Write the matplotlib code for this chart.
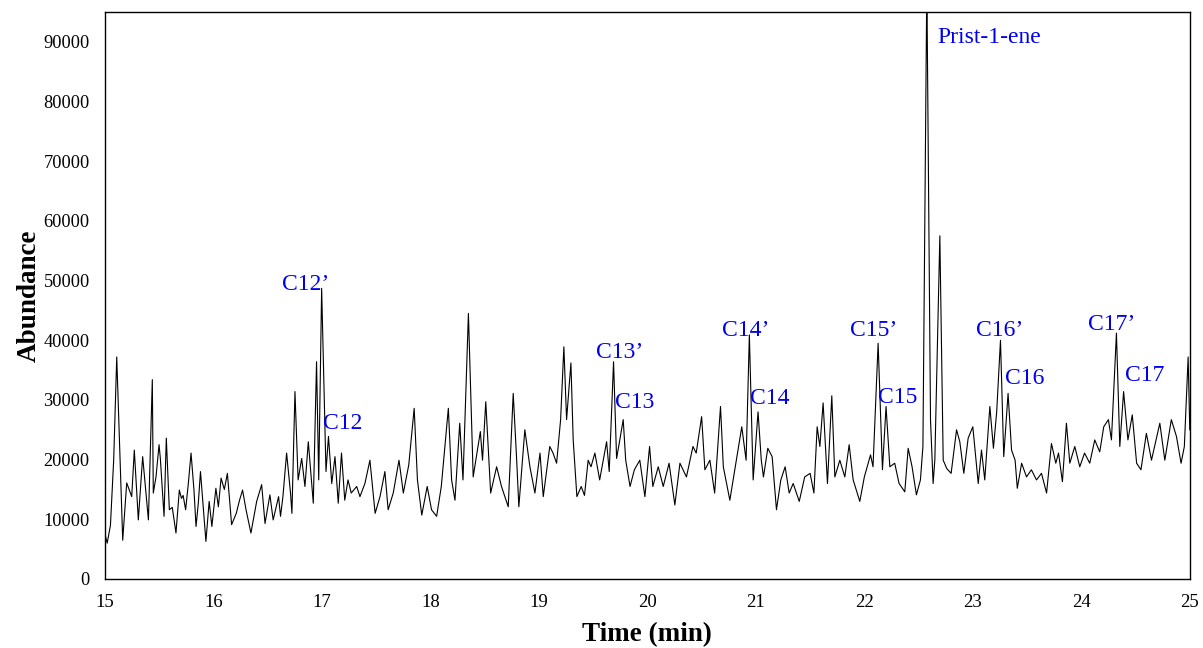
import matplotlib
matplotlib.use('Agg')
import matplotlib.pyplot as plt

# retention time (min) and abundance
time_min = [
    15.00, 15.02, 15.05, 15.08, 15.108, 15.13, 15.163, 15.20, 15.246, 15.27,
    15.307, 15.347, 15.40, 15.436, 15.445, 15.47, 15.498, 15.51, 15.544, 15.565,
    15.593, 15.62, 15.654, 15.685, 15.705, 15.72, 15.743, 15.768, 15.793, 15.82,
    15.839, 15.86, 15.88, 15.91, 15.93, 15.96, 15.985, 16.022, 16.045, 16.07,
    16.10, 16.128, 16.167, 16.21, 16.24, 16.268, 16.30, 16.345, 16.398, 16.444,
    16.475, 16.52, 16.55, 16.60, 16.618, 16.64, 16.674, 16.71, 16.723, 16.751,
    16.78, 16.813, 16.843, 16.874, 16.92, 16.95, 16.97, 16.997, 17.037, 17.06,
    17.09, 17.12, 17.15, 17.18, 17.21, 17.24, 17.27, 17.32, 17.35, 17.396,
    17.442, 17.49, 17.535, 17.58, 17.61, 17.657, 17.71, 17.75, 17.80, 17.85,
    17.88, 17.92, 17.97, 18.01, 18.057, 18.10, 18.165, 18.195, 18.226, 18.27,
    18.30, 18.35, 18.394, 18.46, 18.48, 18.51, 18.555, 18.61, 18.655, 18.717,
    18.763, 18.795, 18.815, 18.87, 18.917, 18.963, 19.01, 19.04, 19.10, 19.13,
    19.163, 19.20, 19.23, 19.255, 19.295, 19.316, 19.35, 19.39, 19.42, 19.454,
    19.48, 19.516, 19.56, 19.624, 19.648, 19.688, 19.716, 19.74, 19.777, 19.80,
    19.84, 19.88, 19.93, 19.977, 20.02, 20.05, 20.10, 20.146, 20.20, 20.253,
    20.30, 20.36, 20.42, 20.45, 20.50, 20.53, 20.576, 20.62, 20.674, 20.70,
    20.76, 20.82, 20.87, 20.91, 20.94, 20.975, 21.02, 21.05, 21.07, 21.11,
    21.15, 21.19, 21.23, 21.27, 21.307, 21.344, 21.40, 21.45, 21.50, 21.535,
    21.565, 21.59, 21.62, 21.66, 21.70, 21.728, 21.774, 21.82, 21.86, 21.897,
    21.958, 22.00, 22.057, 22.08, 22.127, 22.167, 22.20, 22.235, 22.28, 22.32,
    22.373, 22.404, 22.44, 22.48, 22.517, 22.54, 22.576, 22.61, 22.634, 22.65,
    22.696, 22.727, 22.76, 22.80, 22.85, 22.88, 22.917, 22.957, 23.00, 23.05,
    23.08, 23.11, 23.157, 23.19, 23.22, 23.255, 23.285, 23.325, 23.357, 23.39,
    23.41, 23.45, 23.495, 23.54, 23.587, 23.633, 23.68, 23.725, 23.765, 23.79,
    23.826, 23.863, 23.894, 23.94, 23.986, 24.03, 24.078, 24.124, 24.17, 24.207,
    24.25, 24.278, 24.324, 24.355, 24.39, 24.43, 24.47, 24.51, 24.55, 24.60,
    24.647, 24.724, 24.77, 24.83, 24.877, 24.92, 24.95, 24.985, 25.00,
]
abundance = [
    7500, 6000, 9000, 20000, 37200, 25000, 6500, 16100, 13800, 21600,
    9900, 20500, 9900, 33400, 14400, 17100, 22500, 20200, 10500, 23600,
    11600, 12000, 7700, 14900, 13500, 14000, 11600, 16000, 21100, 14900,
    8800, 12700, 18000, 11000, 6300, 13000, 8800, 15200, 12100, 16900,
    15000, 17700, 9100, 11000, 13200, 14900, 11600, 7700, 13000, 15800,
    9300, 14100, 9900, 13800, 10500, 13800, 21100, 14400, 11000, 31400,
    16600, 20200, 15500, 23000, 12700, 36400, 16600, 48700, 18000, 23900,
    16000, 20500, 12700, 21100, 13200, 16600, 14400, 15500, 13800, 16000,
    19900, 11000, 13800, 18000, 11600, 14400, 19900, 14400, 19100, 28600,
    16600, 10700, 15500, 11600, 10500, 15500, 28600, 16600, 13200, 26100,
    16600, 44500, 17100, 24700, 19900, 29700, 14400, 18800, 15500, 12100,
    31100, 19900, 12100, 25000, 18800, 14400, 21100, 13800, 22200, 21100,
    19400, 26700, 38900, 26700, 36200, 23300, 13800, 15500, 14000, 19900,
    18800, 21100, 16600, 23000, 18000, 36400, 20200, 22700, 26700, 19900,
    15500, 18300, 19900, 13800, 22200, 15500, 18800, 15500, 19400, 12400,
    19400, 17100, 22200, 21100, 27200, 18300, 19900, 14400, 28900, 18800,
    13200, 19900, 25500, 19900, 40900, 16600, 28000, 19900, 17100, 21900,
    20500, 11600, 16600, 18800, 14400, 16000, 13000, 17100, 17700, 14400,
    25500, 22200, 29500, 16000, 30700, 17100, 19900, 17100, 22500, 16600,
    13000, 17100, 20800, 18800, 39500, 18300, 28900, 18800, 19400, 16000,
    14600, 21900, 18800, 14100, 16600, 22200, 100000, 26600, 16000, 20000,
    57500, 19900, 18500, 17700, 25000, 23000, 17700, 23600, 25500, 16000,
    21600, 16600, 28900, 21900, 28000, 40000, 20500, 31100, 21600, 19900,
    15200, 19400, 17100, 18300, 16600, 17700, 14400, 22700, 19400, 21100,
    16300, 26100, 19400, 22200, 18800, 21100, 19400, 23300, 21300, 25500,
    26700, 23300, 41200, 22200, 31400, 23300, 27500, 19400, 18300, 24400,
    19900, 26100, 19900, 26700, 23900, 19400, 22200, 37200, 25000,
]

# peak labels (left edge time, baseline abundance)
peak_names = ['C12\u2019', 'C12', 'C13\u2019', 'C13', 'C14\u2019', 'C14',
              'C15\u2019', 'C15', 'Prist-1-ene', 'C16\u2019', 'C16', 'C17\u2019', 'C17']
label_x = [16.63, 17.01, 19.525, 19.70, 20.69, 20.945,
           21.87, 22.13, 22.67, 23.03, 23.30, 24.06, 24.40]
label_y = [48400, 25100, 37000, 28700, 40700, 29300,
           40700, 29500, 89800, 40700, 32700, 41700, 33100]

x_ticks = list(range(15, 26))
y_ticks = list(range(0, 100000, 10000))


def main():
    plt.rcParams['font.family'] = ['Liberation Serif', 'DejaVu Serif']

    fig = plt.figure(figsize=(12.03, 6.48), dpi=100)
    ax = fig.add_axes([0.0873, 0.1065, 0.9017, 0.875])
    ax.plot(time_min, abundance, color='black', lw=0.8)

    for name, x, y in zip(peak_names, label_x, label_y):
        ax.text(x, y, name, color='#0000ee', fontsize=17, ha='left', va='baseline')

    ax.set_xlim(15, 25)
    ax.set_ylim(0, 95000)
    ax.set_xticks(x_ticks)
    ax.set_yticks(y_ticks)
    ax.tick_params(axis='x', length=0, labelsize=13.5, pad=11)
    ax.tick_params(axis='y', length=0, labelsize=13.2, pad=11)
    for s in ax.spines.values():
        s.set_linewidth(1.0)

    ax.set_xlabel('Time (min)', fontsize=19.5, fontweight='bold', labelpad=8)
    ax.set_ylabel('Abundance', fontsize=19.5, fontweight='bold', labelpad=1)

    fig.savefig('out.png', dpi=100)


if __name__ == '__main__':
    main()
